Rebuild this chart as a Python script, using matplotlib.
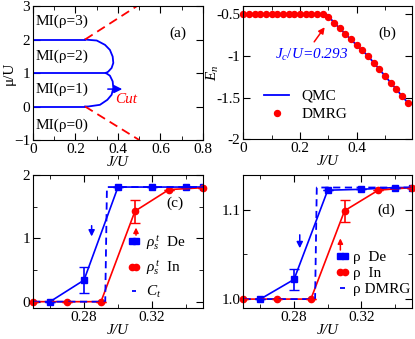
import numpy as np
import matplotlib
matplotlib.use("Agg")
import matplotlib.pyplot as plt
from matplotlib.ticker import MultipleLocator, FormatStrFormatter

plt.rcParams['font.family'] = ['Liberation Serif', 'DejaVu Serif']
plt.rcParams['font.size'] = 11
plt.rcParams['mathtext.fontset'] = 'custom'
plt.rcParams['mathtext.rm'] = 'Liberation Serif'
plt.rcParams['mathtext.it'] = 'Liberation Serif:italic'

BLUE = '#0000ff'
RED = '#ff0000'

# ---- (a) phase diagram ----
lobe1_J = [0.245, 0.26, 0.315, 0.35, 0.370, 0.378, 0.375, 0.362, 0.343]
lobe1_mu = [0.0, 0.0, 0.05, 0.2, 0.35, 0.55, 0.75, 0.92, 1.0]
lobe2_J = [0.343, 0.354, 0.370, 0.378, 0.375, 0.362, 0.339, 0.30, 0.26, 0.245]
lobe2_mu = [1.0, 1.04, 1.15, 1.30, 1.49, 1.69, 1.84, 1.97, 1.99, 2.0]
flat_mu = [0, 1, 2]
flat_J_end = [0.245, 0.343, 0.245]
dash_up_J = [0.245, 0.49]
dash_up_mu = [2.0, 3.0]
dash_dn_J = [0.245, 0.50]
dash_dn_mu = [0.0, -1.0]
mi_labels = ['MI(ρ=3)', 'MI(ρ=2)', 'MI(ρ=1)', 'MI(ρ=0)']
mi_y = [2.54, 1.49, 0.52, -0.55]

# ---- (b) energy ----
dmrg_J = [0.00, 0.02, 0.04, 0.06, 0.08, 0.10, 0.12, 0.14, 0.16, 0.18,
          0.20, 0.22, 0.24, 0.26, 0.28, 0.30, 0.32, 0.34, 0.36, 0.38,
          0.40, 0.42, 0.44, 0.46, 0.48, 0.50, 0.52, 0.54, 0.56, 0.58]
dmrg_E = [-0.5, -0.5, -0.5, -0.5, -0.5, -0.5, -0.5, -0.5, -0.5, -0.5,
          -0.5, -0.5, -0.5, -0.5, -0.5, -0.53, -0.60, -0.67, -0.74, -0.80,
          -0.87, -0.93, -1.00, -1.08, -1.16, -1.24, -1.32, -1.40, -1.48, -1.56]
qmc_J = [0.0, 0.293, 0.34, 0.40, 0.44, 0.50, 0.54, 0.58]
qmc_E = [-0.5, -0.5, -0.67, -0.87, -1.00, -1.24, -1.40, -1.56]

# ---- (c) stiffness ----
de_J = [0.26, 0.28, 0.30, 0.32, 0.34, 0.35]
de_rho = [0.0, 0.34, 1.81, 1.81, 1.81, 1.81]
de_err = [0, 0.21, 0, 0, 0, 0]
in_J = [0.25, 0.27, 0.29, 0.31, 0.33, 0.35]
in_rho = [0.0, 0.0, 0.0, 1.43, 1.77, 1.80]
in_err = [0, 0, 0, 0.18, 0, 0]
ct_J = [0.25, 0.2925, 0.2935, 0.35]
ct_val = [0.0, 0.0, 1.81, 1.81]

# ---- (d) density ----
dd_J = [0.26, 0.28, 0.30, 0.32, 0.34, 0.35]
dd_rho = [1.0, 1.022, 1.122, 1.123, 1.125, 1.125]
dd_err = [0, 0.012, 0, 0, 0, 0]
di_J = [0.25, 0.27, 0.29, 0.31, 0.33, 0.35]
di_rho = [1.0, 1.0, 1.0, 1.099, 1.122, 1.125]
di_err = [0, 0, 0, 0.0125, 0, 0]
dm_J = [0.25, 0.2925, 0.2935, 0.35]
dm_rho = [1.0, 1.0, 1.125, 1.125]

fig = plt.figure(figsize=(4.15, 3.39), dpi=100)
axa = fig.add_axes([0.0795, 0.587, 0.4096, 0.3953])
axb = fig.add_axes([0.5863, 0.5885, 0.4065, 0.394])
axc = fig.add_axes([0.0795, 0.0914, 0.4096, 0.3923])
axd = fig.add_axes([0.5867, 0.0914, 0.406, 0.3923])

for ax in (axa, axb, axc, axd):
    ax.tick_params(which='both', direction='in', top=True, right=True, labelsize=11, pad=2)
    ax.tick_params(which='major', length=5)
    ax.tick_params(which='minor', length=3)

ARR = '-|>,head_length=0.6,head_width=0.3'


def arrow(ax, x0, y0, x1, y1, c, ms=9):
    ax.annotate('', xy=(x1, y1), xytext=(x0, y0),
                arrowprops=dict(arrowstyle=ARR, color=c, lw=1.1, mutation_scale=ms,
                                shrinkA=0, shrinkB=0))


# (a)
for mu, je in zip(flat_mu, flat_J_end):
    axa.plot([0, je], [mu, mu], color=BLUE, lw=1.3)
axa.plot(lobe1_J, lobe1_mu, color=BLUE, lw=1.3)
axa.plot(lobe2_J, lobe2_mu, color=BLUE, lw=1.3)
axa.plot(dash_up_J, dash_up_mu, color=RED, lw=1.3, dashes=(5, 3))
axa.plot(dash_dn_J, dash_dn_mu, color=RED, lw=1.3, dashes=(5, 3))
for lab, y in zip(mi_labels, mi_y):
    axa.text(0.012, y, lab, va='center', ha='left', fontsize=11)
arrow(axa, 0.352, 0.52, 0.42, 0.52, BLUE, ms=8)
axa.text(0.386, 0.2, 'Cut', color=RED, style='italic', va='center', ha='left')
axa.text(0.684, 2.19, '(a)', ha='center', va='center')
axa.set_xlim(0, 0.8)
axa.set_ylim(-1, 3)
axa.xaxis.set_major_locator(MultipleLocator(0.2))
axa.xaxis.set_minor_locator(MultipleLocator(0.1))
axa.xaxis.set_major_formatter(FormatStrFormatter('%g'))
axa.yaxis.set_major_locator(MultipleLocator(1))
axa.set_xlabel('J/U', style='italic', labelpad=0)
axa.set_ylabel('μ/U', labelpad=1)
axa.yaxis.set_label_coords(-0.1, 0.5)

# (b)
axb.plot(qmc_J, qmc_E, color=BLUE, lw=1.3, label='QMC')
axb.plot(dmrg_J, dmrg_E, 'o', color=RED, ms=4.3, label='DMRG', clip_on=False)
arrow(axb, 0.25, -0.83, 0.287, -0.655, RED, ms=6)
axb.text(0.11, -0.99, r'$J_c/U$=0.293', color=BLUE, style='italic', va='center', ha='left')
axb.text(0.508, -0.73, '(b)', ha='center', va='center')
axb.set_xlim(0, 0.595)
axb.set_ylim(-2, -0.4)
axb.xaxis.set_major_locator(MultipleLocator(0.2))
axb.xaxis.set_minor_locator(MultipleLocator(0.1))
axb.xaxis.set_major_formatter(FormatStrFormatter('%g'))
axb.yaxis.set_major_locator(MultipleLocator(0.5))
axb.yaxis.set_major_formatter(FormatStrFormatter('%g'))
axb.set_xlabel('J/U', style='italic', labelpad=0)
axb.set_ylabel(r'$E_n$', labelpad=1)
axb.yaxis.set_label_coords(-0.13, 0.5)
axb.legend(loc='lower left', bbox_to_anchor=(0.08, 0.08), frameon=False,
           handlelength=1.6, handletextpad=0.8, labelspacing=0.3, borderpad=0, fontsize=11)

# (c)
l1, = axc.plot(de_J, de_rho, color=BLUE, lw=1.2, marker='s', ms=4)
l2, = axc.plot(in_J, in_rho, color=RED, lw=1.2, marker='o', ms=4.5, clip_on=False)
l3, = axc.plot(ct_J, ct_val, color=BLUE, lw=1.3, dashes=(4, 2.5))
axc.errorbar(de_J, de_rho, yerr=de_err, fmt='none', ecolor=BLUE, capsize=3.5, elinewidth=1.2)
axc.errorbar(in_J, in_rho, yerr=in_err, fmt='none', ecolor=RED, capsize=3.5, elinewidth=1.2)
arrow(axc, 0.2845, 1.2, 0.2845, 1.03, BLUE, ms=6)
arrow(axc, 0.3106, 1.05, 0.3106, 1.17, RED, ms=5)
axc.text(0.3335, 1.55, '(c)', ha='center', va='center')
axc.set_xlim(0.25, 0.35)
axc.set_ylim(-0.1, 2)
axc.xaxis.set_major_locator(MultipleLocator(0.04))
axc.xaxis.set_minor_locator(MultipleLocator(0.02))
axc.xaxis.set_major_formatter(FormatStrFormatter('%.2f'))
axc.yaxis.set_major_locator(MultipleLocator(1))
axc.yaxis.set_minor_locator(MultipleLocator(0.5))
axc.set_xlabel('J/U', style='italic', labelpad=0)
axc.legend([l1, l2, l3], [r'$\rho_s^{\,t}$  De', r'$\rho_s^{\,t}$  In', r'$C_t$'],
           loc='lower left', bbox_to_anchor=(0.51, 0.0), frameon=False, numpoints=2,
           handlelength=0.9, handletextpad=0.35, labelspacing=0.45, borderpad=0, fontsize=11)

# (d)
m1, = axd.plot(dd_J, dd_rho, color=BLUE, lw=1.2, marker='s', ms=4)
m2, = axd.plot(di_J, di_rho, color=RED, lw=1.2, marker='o', ms=4.5, clip_on=False)
m3, = axd.plot(dm_J, dm_rho, color=BLUE, lw=1.3, dashes=(4, 2.5))
axd.errorbar(dd_J, dd_rho, yerr=dd_err, fmt='none', ecolor=BLUE, capsize=3.5, elinewidth=1.2)
axd.errorbar(di_J, di_rho, yerr=di_err, fmt='none', ecolor=RED, capsize=3.5, elinewidth=1.2)
arrow(axd, 0.2834, 1.072, 0.2834, 1.057, BLUE, ms=6)
arrow(axd, 0.3075, 1.055, 0.3075, 1.068, RED, ms=5)
axd.text(0.3347, 1.099, '(d)', ha='center', va='center')
axd.set_xlim(0.25, 0.35)
axd.set_ylim(0.99, 1.139)
axd.xaxis.set_major_locator(MultipleLocator(0.04))
axd.xaxis.set_minor_locator(MultipleLocator(0.02))
axd.xaxis.set_major_formatter(FormatStrFormatter('%.2f'))
axd.yaxis.set_major_locator(MultipleLocator(0.1))
axd.yaxis.set_minor_locator(MultipleLocator(0.05))
axd.yaxis.set_major_formatter(FormatStrFormatter('%.1f'))
axd.set_xlabel('J/U', style='italic', labelpad=0)
axd.legend([m1, m2, m3], ['ρ  De', 'ρ  In', 'ρ DMRG'],
           loc='lower left', bbox_to_anchor=(0.5, 0.03), frameon=False, numpoints=2,
           handlelength=0.9, handletextpad=0.25, labelspacing=0.15, borderpad=0, fontsize=11)

fig.savefig('out.png', dpi=100)
